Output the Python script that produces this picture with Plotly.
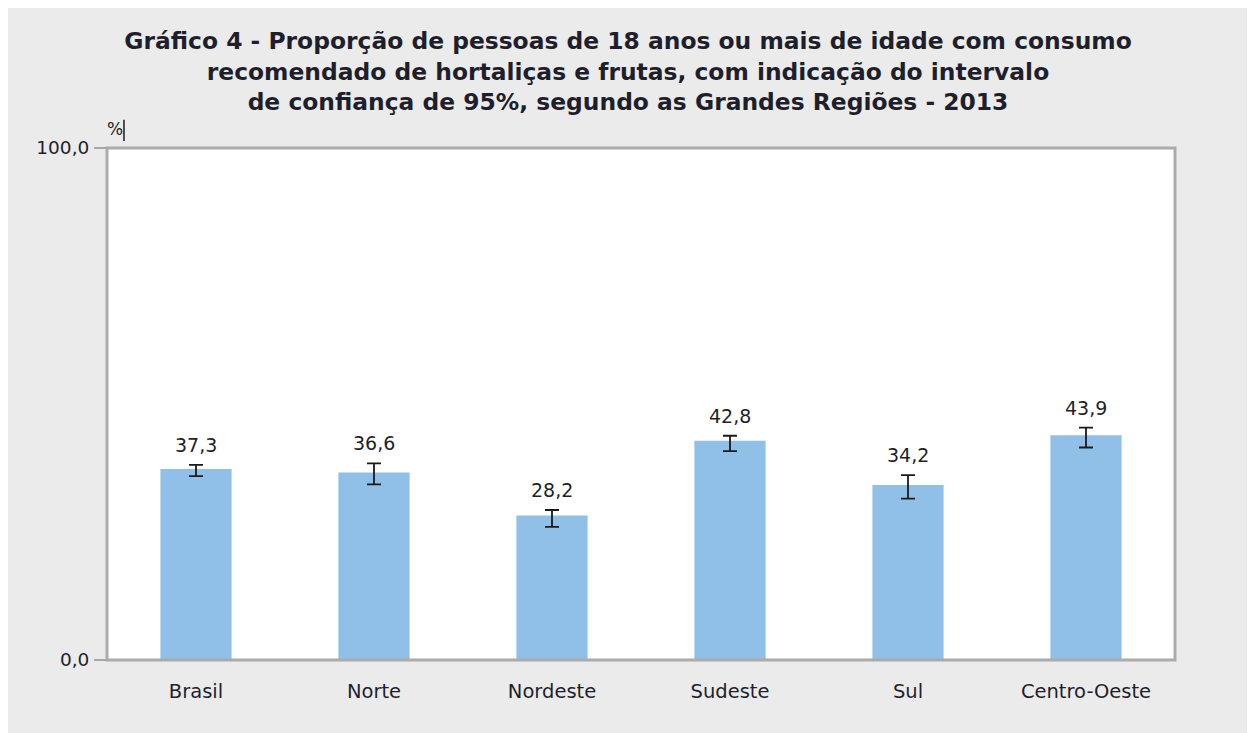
import plotly.graph_objects as go

categories = ["Brasil", "Norte", "Nordeste", "Sudeste", "Sul", "Centro-Oeste"]
values = [37.3, 36.6, 28.2, 42.8, 34.2, 43.9]
ci_upper = [38.1, 38.4, 29.3, 43.8, 36.1, 45.4]
ci_lower = [35.9, 34.3, 26.0, 40.8, 31.5, 41.5]
value_labels = ["37,3", "36,6", "28,2", "42,8", "34,2", "43,9"]
tick_vals = [0, 100]
tick_text = ["0,0", "100,0"]

err_plus = [u - v for u, v in zip(ci_upper, values)]
err_minus = [v - l for v, l in zip(values, ci_lower)]

TXT = "#1f1f2b"
FONT = "DejaVu Sans, Liberation Sans, sans-serif"

fig = go.Figure()
fig.add_trace(go.Bar(
    x=categories, y=values,
    marker=dict(color="#90c0e8", line=dict(width=0)),
    error_y=dict(type="data", symmetric=False, array=err_plus, arrayminus=err_minus,
                 color="#1a1a1a", thickness=1.8, width=7),
    showlegend=False, hoverinfo="x+y",
))

annotations = [
    dict(x=c, y=u, text=t, xref="x", yref="y", showarrow=False, yanchor="bottom",
         yshift=7, font=dict(size=19, color=TXT, family=FONT))
    for c, u, t in zip(categories, ci_upper, value_labels)
]
annotations.append(
    dict(text="%", xref="paper", yref="paper", x=-0.002, y=1.014, xanchor="left", yanchor="bottom",
         showarrow=False, font=dict(size=17, color=TXT, family=FONT))
)

fig.update_layout(
    width=1240, height=725,
    paper_bgcolor="#ebebeb", plot_bgcolor="white",
    margin=dict(l=99, r=73, t=140, b=73),
    bargap=0.6,
    font=dict(family=FONT, color=TXT, size=18),
    title=dict(
        text="<b>Gráfico 4 - Proporção de pessoas de 18 anos ou mais de idade com consumo<br>"
             "recomendado de hortaliças e frutas, com indicação do intervalo<br>"
             "de confiança de 95%, segundo as Grandes Regiões - 2013</b>",
        x=0.5, xanchor="center", y=0.943, yanchor="top",
        font=dict(size=23.4, family=FONT, color=TXT),
    ),
    xaxis=dict(showgrid=False, showline=False, ticks="", tickfont=dict(size=19.5),
               ticklabelstandoff=17),
    yaxis=dict(range=[0, 100], tickvals=tick_vals, ticktext=tick_text, showgrid=False,
               zeroline=False, showline=False, ticks="outside", ticklen=12,
               tickcolor="#a8a8a8", tickwidth=2, tickfont=dict(size=18.5),
               ticklabelstandoff=1),
    shapes=[
        dict(type="rect", xref="paper", yref="paper", x0=0, x1=1, y0=0, y1=1,
             line=dict(color="#ababab", width=3), fillcolor="rgba(0,0,0,0)", layer="above"),
        dict(type="line", xref="paper", yref="paper", x0=0.0159, x1=0.0159, y0=1.0137, y1=1.055,
             line=dict(color="#1a1a1a", width=1.5)),
    ],
    annotations=annotations,
)

fig.write_html("out.html")
